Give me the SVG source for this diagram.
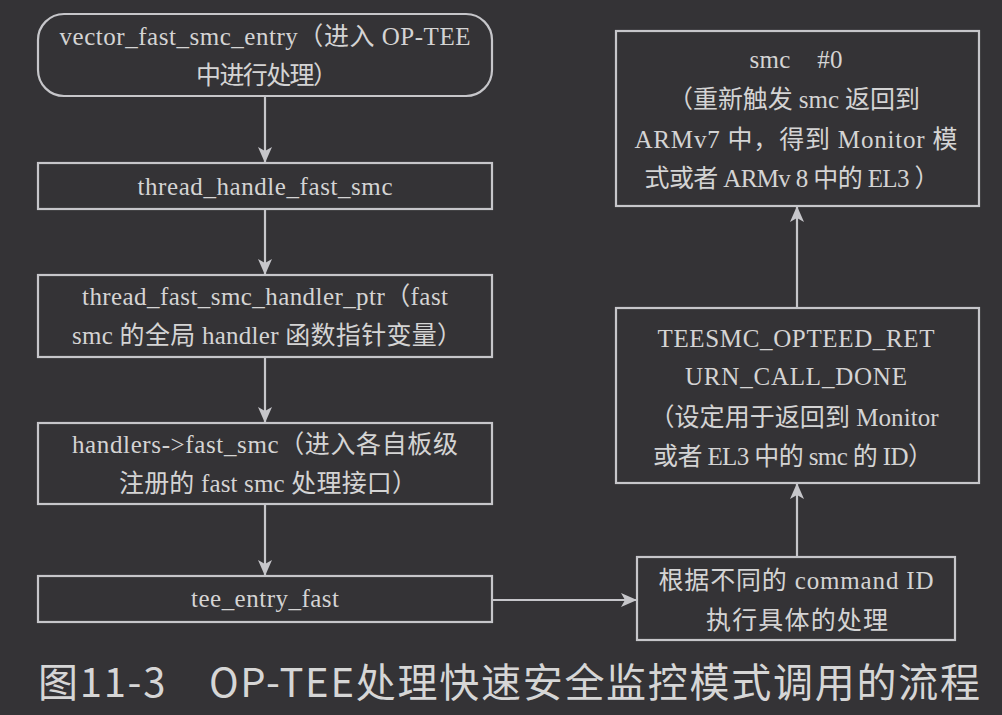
<svg xmlns="http://www.w3.org/2000/svg" width="1002" height="715" viewBox="0 0 1002 715">
<defs>
<style>
.box{fill:none;stroke:#c6c6ca;stroke-width:2.2}
.t{font-family:"Liberation Serif","Noto Sans CJK SC",serif;font-size:25px;fill:#d4d4d4;text-anchor:middle}
.conn{stroke:#c6c6ca;stroke-width:2.2;fill:none}
.cap{font-family:"Noto Sans CJK SC","Liberation Sans",sans-serif;font-size:40px;fill:#d6d6d6}
</style>
<marker id="ah" viewBox="0 0 16 16" refX="15" refY="8" markerWidth="16" markerHeight="16" markerUnits="userSpaceOnUse" orient="auto">
<path d="M0,1 L16,8 L0,15 L4,8 Z" fill="#c6c6ca"/>
</marker>
</defs>
<rect width="1002" height="715" fill="#343336"/>
<g id="connectors">
<line class="conn" x1="265" y1="96" x2="265" y2="162" marker-end="url(#ah)"/>
<line class="conn" x1="265" y1="209" x2="265" y2="274" marker-end="url(#ah)"/>
<line class="conn" x1="265" y1="357" x2="265" y2="422" marker-end="url(#ah)"/>
<line class="conn" x1="265" y1="504" x2="265" y2="575" marker-end="url(#ah)"/>
<line class="conn" x1="492" y1="600" x2="636" y2="600" marker-end="url(#ah)"/>
<line class="conn" x1="797" y1="557" x2="797" y2="484" marker-end="url(#ah)"/>
<line class="conn" x1="797" y1="308" x2="797" y2="207" marker-end="url(#ah)"/>
</g>
<g id="n1">
<rect class="box" x="38" y="14" width="454" height="82" rx="26"/>
<text class="t" x="265" y="45" textLength="411" lengthAdjust="spacing">vector_fast_smc_entry（进入 OP-TEE</text>
<text class="t" x="267" y="84" textLength="142" lengthAdjust="spacing">中进行处理）</text>
</g>
<g id="n2">
<rect class="box" x="38" y="163" width="454" height="46"/>
<text class="t" x="265" y="195" textLength="255" lengthAdjust="spacing">thread_handle_fast_smc</text>
</g>
<g id="n3">
<rect class="box" x="38" y="275" width="454" height="82"/>
<text class="t" x="265" y="305" textLength="366" lengthAdjust="spacing">thread_fast_smc_handler_ptr（fast</text>
<text class="t" x="267" y="344" textLength="390" lengthAdjust="spacing">smc 的全局 handler 函数指针变量）</text>
</g>
<g id="n4">
<rect class="box" x="38" y="423" width="454" height="81"/>
<text class="t" x="265" y="453" textLength="386" lengthAdjust="spacing">handlers-&gt;fast_smc（进入各自板级</text>
<text class="t" x="268" y="492" textLength="298" lengthAdjust="spacing">注册的 fast smc 处理接口）</text>
</g>
<g id="n5">
<rect class="box" x="38" y="576" width="454" height="46"/>
<text class="t" x="265" y="607" textLength="148" lengthAdjust="spacing">tee_entry_fast</text>
</g>
<g id="n6">
<rect class="box" x="637" y="557" width="318" height="83"/>
<text class="t" x="796" y="589" textLength="275" lengthAdjust="spacing">根据不同的 command ID</text>
<text class="t" x="797" y="629" textLength="182" lengthAdjust="spacing">执行具体的处理</text>
</g>
<g id="n7">
<rect class="box" x="616" y="308" width="363" height="175"/>
<text class="t" x="796" y="347" textLength="277" lengthAdjust="spacing">TEESMC_OPTEED_RET</text>
<text class="t" x="796" y="385" textLength="222" lengthAdjust="spacing">URN_CALL_DONE</text>
<text class="t" x="794" y="426" textLength="289" lengthAdjust="spacing">（设定用于返回到 Monitor</text>
<text class="t" x="793" y="465" textLength="280" lengthAdjust="spacing">或者 EL3 中的 smc 的 ID）</text>
</g>
<g id="n8">
<rect class="box" x="616" y="31" width="363" height="175"/>
<text class="t" x="796" y="68" textLength="93" lengthAdjust="spacing" xml:space="preserve">smc    #0</text>
<text class="t" x="794" y="108" textLength="252" lengthAdjust="spacing">（重新触发 smc 返回到</text>
<text class="t" x="796" y="148" textLength="323" lengthAdjust="spacing">ARMv7 中，得到 Monitor 模</text>
<text class="t" x="792" y="187" textLength="295" lengthAdjust="spacing">式或者 ARMv 8 中的 EL3 ）</text>
</g>
<text class="cap" x="38" y="697" textLength="942" lengthAdjust="spacing" xml:space="preserve">图11-3　OP-TEE处理快速安全监控模式调用的流程</text>
</svg>
